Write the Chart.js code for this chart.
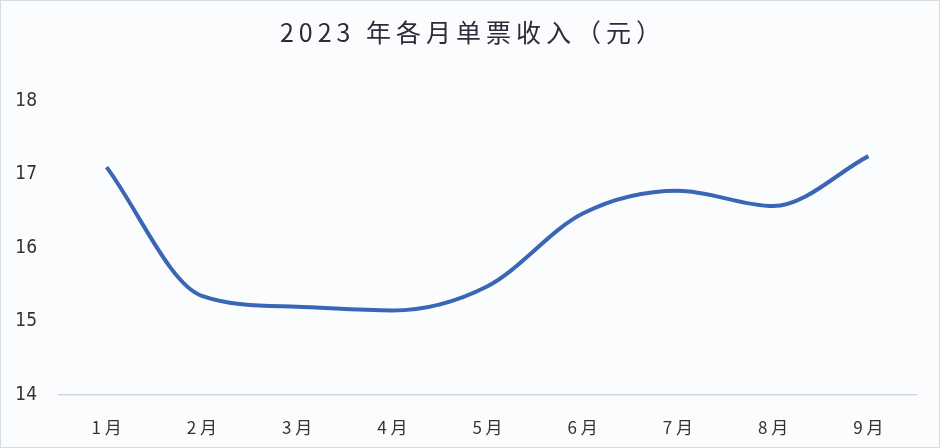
<!DOCTYPE html>
<html>
<head>
<meta charset="utf-8">
<script src="https://cdn.jsdelivr.net/npm/chart.js@4/dist/chart.umd.min.js"></script>
<style>
  html, body { margin: 0; padding: 0; background: #fbfcfe; }
  #wrap { width: 938px; height: 446px; border: 1px solid #d9dde3; background: #fbfcfe; }
</style>
</head>
<body>
<div id="wrap"><canvas id="myChart"></canvas></div>
<script>
// 数据
const chartTitle = '2023 年各月单票收入（元）';
const months = ['1 月', '2 月', '3 月', '4 月', '5 月', '6 月', '7 月', '8 月', '9 月'];
const ticketIncome = [17.1, 15.35, 15.2, 15.15, 15.48, 16.47, 16.78, 16.57, 17.25];
const yTicks = [14, 15, 16, 17, 18];

// 标题（带字间距）
const spacedTitle = {
    id: 'spacedTitle',
    afterDraw: function(chart) {
        const c = chart.ctx;
        c.save();
        c.font = '25px "Noto Sans CJK SC", sans-serif';
        c.fillStyle = '#2e2a3a';
        c.textAlign = 'center';
        c.textBaseline = 'middle';
        c.letterSpacing = '5px';
        c.fillText(chartTitle, chart.width / 2 + 3, 31);
        c.restore();
    }
};

document.addEventListener('DOMContentLoaded', function() {
    const ctx = document.getElementById('myChart').getContext('2d');
    new Chart(ctx, {
        type: 'line',
        data: {
            labels: months,
            datasets: [{
                label: '单票收入',
                data: ticketIncome,
                borderColor: '#3a66b5',
                borderWidth: 4,
                pointRadius: 0,
                fill: false,
                cubicInterpolationMode: 'monotone'
            }]
        },
        options: {
            responsive: true,
            maintainAspectRatio: false,
            animation: false,
            layout: { padding: { left: 10, right: 23, top: 100, bottom: 0 } },
            plugins: {
                legend: { display: false },
                tooltip: { enabled: false },
                title: { display: false }
            },
            scales: {
                x: {
                    offset: true,
                    grid: { display: false, drawTicks: false },
                    border: { display: true, color: '#d3d7dc', width: 1.5 },
                    afterFit: function(axis) { axis.height = 52; },
                    ticks: {
                        color: '#333',
                        padding: 22,
                        maxRotation: 0,
                        font: { family: '"Noto Sans CJK SC", sans-serif', size: 17 }
                    }
                },
                y: {
                    min: 14,
                    max: 18,
                    afterBuildTicks: function(axis) {
                        axis.ticks = yTicks.map(v => ({ value: v }));
                    },
                    afterFit: function(axis) { axis.width = 48; },
                    grid: { display: false, drawTicks: false },
                    border: { display: false },
                    ticks: {
                        color: '#333',
                        padding: 22,
                        font: { family: '"Liberation Sans Narrow", "DejaVu Sans Condensed", sans-serif', size: 19 }
                    }
                }
            }
        },
        plugins: [spacedTitle]
    });
});
</script>
</body>
</html>
